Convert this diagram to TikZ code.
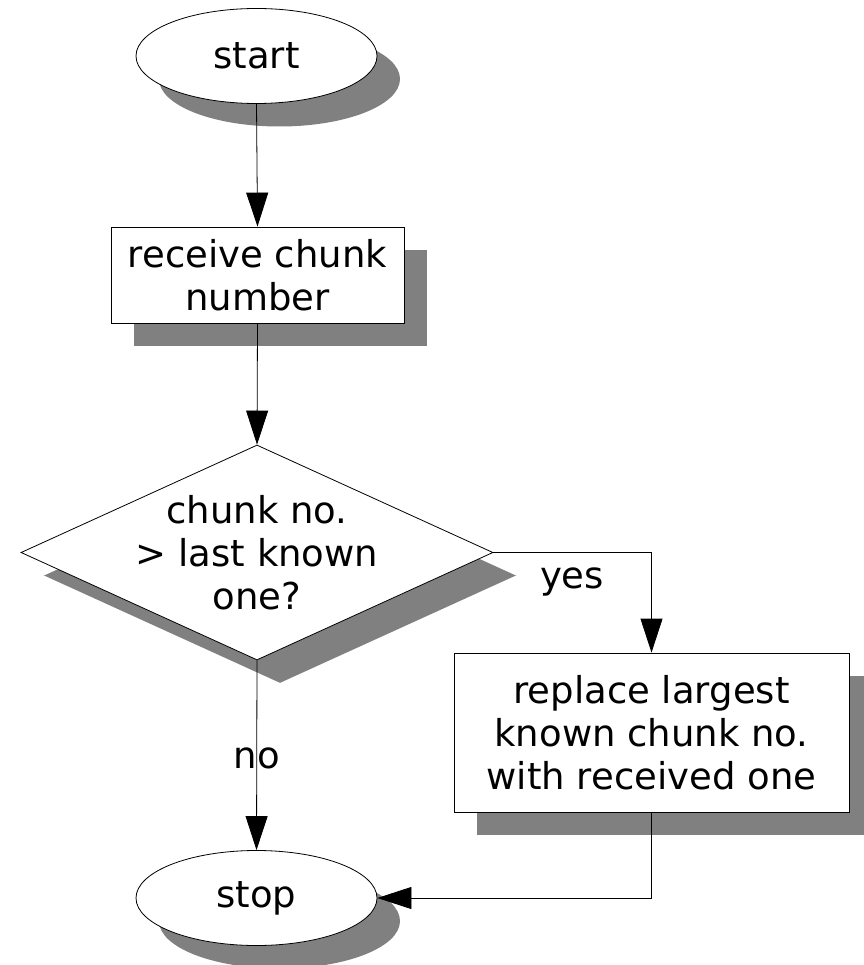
\documentclass[tikz,border=0pt]{standalone}
\usepackage{fontspec}
\setmainfont{DejaVu Sans}
\usetikzlibrary{shapes.geometric,arrows.meta,shadows}
\begin{document}
\begin{tikzpicture}[x=1pt,y=-1pt,
  every node/.style={font=\fontsize{37}{43}\selectfont},
  shad/.style={drop shadow={shadow xshift=23pt,shadow yshift=-23pt,fill=black!50,opacity=1}},
  term/.style={ellipse,draw,fill=white,line width=0.8pt,inner sep=0pt,minimum width=241pt,minimum height=95pt,shad},
  proc/.style={rectangle,draw,fill=white,line width=0.8pt,inner sep=0pt,align=center,shad},
  decis/.style={diamond,draw,fill=white,line width=0.8pt,inner sep=0pt,minimum width=472pt,minimum height=215pt,shad},
  conn/.style={line width=0.8pt,-{Triangle[length=34pt,width=22pt]}},
  lbl/.style={inner sep=0pt}
]
\useasboundingbox (0,0) rectangle (863,965);
\node[term] (start) at (256.5,56) {start};
\node[proc,minimum width=293pt,minimum height=96pt] (recv) at (257.5,275) {receive chunk\\number};
\node[decis,label={[align=center,inner sep=0pt,font=\fontsize{37}{43}\selectfont]center:chunk no.\\ > last known\\ one?}] (dec) at (257,552.5) {};
\node[proc,minimum width=395pt,minimum height=159pt] (repl) at (651.5,732.5) {replace largest\\known chunk no.\\with received one};
\node[term] (stop) at (256.5,898) {stop};
\node[lbl] (yes) at (572,582) {yes};
\node[lbl] (no) at (257,758) {no};
\draw[conn] (start.south) -- (recv.north);
\draw[conn] (recv.south) -- (dec.north);
\draw[conn] (dec.east) -| (repl.north);
\draw[conn] (dec.south) -- (stop.north);
\draw[conn] (repl.south) |- (stop.east);
\end{tikzpicture}
\end{document}
